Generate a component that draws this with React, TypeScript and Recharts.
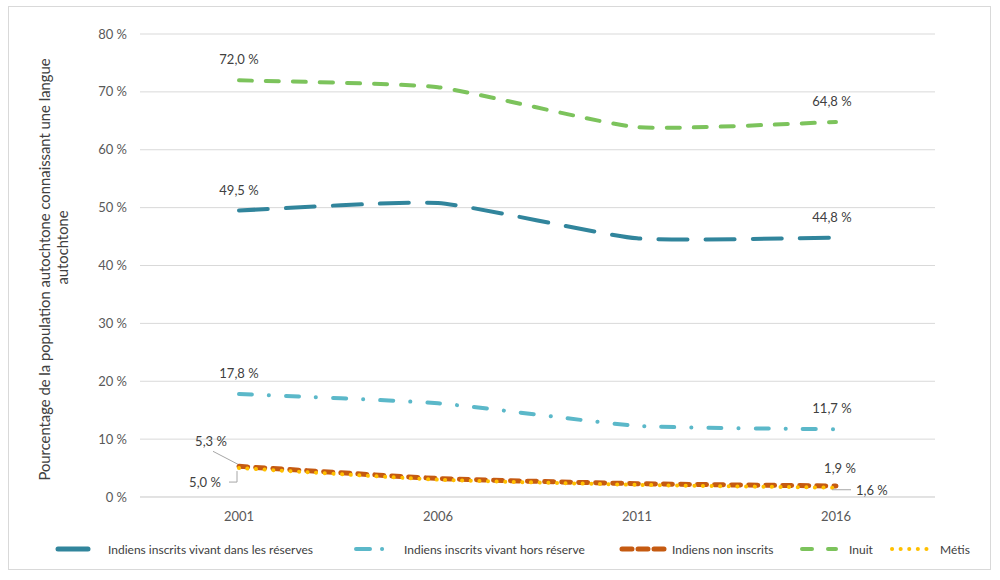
import { LineChart, Line, XAxis, YAxis, CartesianGrid, Legend, LabelList } from "recharts";

const categories = ["2001", "2006", "2011", "2016"];
const reserves = [49.5, 50.8, 44.7, 44.8];
const horsReserve = [17.8, 16.2, 12.3, 11.7];
const nonInscrits = [5.3, 3.2, 2.3, 1.9];
const inuit = [72.0, 70.8, 63.9, 64.8];
const metis = [5.0, 3.0, 2.1, 1.6];
const yTicks = [0, 10, 20, 30, 40, 50, 60, 70, 80];

const data = categories.map((annee, i) => ({
  annee,
  reserves: reserves[i],
  horsReserve: horsReserve[i],
  nonInscrits: nonInscrits[i],
  inuit: inuit[i],
  metis: metis[i],
}));

const FONT = "Lato, 'Open Sans', sans-serif";
const fmt = (v: number) => `${v.toFixed(1).replace(".", ",")} %`;

// lissage façon Excel (Catmull-Rom, tension réduite)
type Ctx = { moveTo: (x: number, y: number) => void; bezierCurveTo: (a: number, b: number, c: number, d: number, e: number, f: number) => void };
function excelSmooth(context: Ctx) {
  let pts: [number, number][] = [];
  return {
    areaStart() {},
    areaEnd() {},
    lineStart() {
      pts = [];
    },
    point(x: number, y: number) {
      pts.push([+x, +y]);
    },
    lineEnd() {
      if (!pts.length) return;
      context.moveTo(pts[0][0], pts[0][1]);
      for (let i = 0; i < pts.length - 1; i++) {
        const p0 = pts[i - 1] || pts[i];
        const p1 = pts[i];
        const p2 = pts[i + 1];
        const p3 = pts[i + 2] || p2;
        const k = 1 / 12;
        context.bezierCurveTo(
          p1[0] + (p2[0] - p0[0]) * k,
          p1[1] + (p2[1] - p0[1]) * k,
          p2[0] - (p3[0] - p1[0]) * k,
          p2[1] - (p3[1] - p1[1]) * k,
          p2[0],
          p2[1]
        );
      }
    },
  };
}

type LabelProps = { x?: number; y?: number; index?: number; value?: number };

// étiquettes seulement au premier et au dernier point
function aboveLabel(dyFirst: number, dyLast: number) {
  return (p: LabelProps) => {
    const { x = 0, y = 0, index, value = 0 } = p;
    if (index !== 0 && index !== categories.length - 1) return null;
    const dy = index === 0 ? dyFirst : dyLast;
    const dx = index === 0 ? 0 : -4;
    return (
      <text x={x + dx} y={y + dy} textAnchor="middle" dominantBaseline="central" fontSize={13} fill="#404040" fontFamily={FONT}>
        {fmt(value)}
      </text>
    );
  };
}

function nonInscritsLabel(p: LabelProps) {
  const { x = 0, y = 0, index, value = 0 } = p;
  if (index === 0) {
    return (
      <g>
        <line x1={x - 26} y1={y - 15} x2={x - 1} y2={y - 2} stroke="#a6a6a6" strokeWidth={1} />
        <text x={x - 28} y={y - 25} textAnchor="middle" dominantBaseline="central" fontSize={13} fill="#404040" fontFamily={FONT}>
          {fmt(value)}
        </text>
      </g>
    );
  }
  if (index === categories.length - 1) {
    return (
      <text x={x + 4} y={y - 18} textAnchor="middle" dominantBaseline="central" fontSize={13} fill="#404040" fontFamily={FONT}>
        {fmt(value)}
      </text>
    );
  }
  return null;
}

function metisLabel(p: LabelProps) {
  const { x = 0, y = 0, index, value = 0 } = p;
  if (index === 0) {
    return (
      <g>
        <polyline points={`${x - 10},${y + 14} ${x - 2},${y + 14} ${x - 2},${y + 3}`} fill="none" stroke="#a6a6a6" strokeWidth={1} />
        <text x={x - 34} y={y + 14} textAnchor="middle" dominantBaseline="central" fontSize={13} fill="#404040" fontFamily={FONT}>
          {fmt(value)}
        </text>
      </g>
    );
  }
  if (index === categories.length - 1) {
    return (
      <g>
        <line x1={x - 4} y1={y + 2} x2={x + 15} y2={y + 2} stroke="#a6a6a6" strokeWidth={1} />
        <text x={x + 20} y={y + 2} textAnchor="start" dominantBaseline="central" fontSize={13} fill="#404040" fontFamily={FONT}>
          {fmt(value)}
        </text>
      </g>
    );
  }
  return null;
}

const legendItems = [
  { label: "Indiens inscrits vivant dans les réserves", color: "#31859C", dash: "", width: 5, x1: 58, x2: 88, tx: 108 },
  { label: "Indiens inscrits vivant hors réserve", color: "#5BB8C9", dash: "14 12 0.1 20", width: 4, x1: 356, x2: 384, tx: 404 },
  { label: "Indiens non inscrits", color: "#C55A11", dash: "10 6", width: 5, x1: 622, x2: 665, tx: 672 },
  { label: "Inuit", color: "#7CC35C", dash: "10 16", width: 4, x1: 802, x2: 836, tx: 849 },
  { label: "Métis", color: "#FFC000", dash: "0.1 8.5", width: 4, x1: 892, x2: 934, tx: 940 },
];

function LegendContent() {
  return (
    <svg width={1000} height={24} style={{ display: "block" }}>
      {legendItems.map((it) => (
        <g key={it.label}>
          <line x1={it.x1} y1={12} x2={it.x2} y2={12} stroke={it.color} strokeWidth={it.width} strokeDasharray={it.dash || undefined} strokeLinecap="round" />
          <text x={it.tx} y={12} dominantBaseline="central" fontSize={12} fill="#404040" fontFamily={FONT}>
            {it.label}
          </text>
        </g>
      ))}
    </svg>
  );
}

function YLabel(props: { viewBox?: { x: number; y: number; width: number; height: number } }) {
  const vb = props.viewBox || { x: 0, y: 0, width: 0, height: 0 };
  const cy = vb.y + vb.height / 2 + 4;
  return (
    <text transform={`rotate(-90, 50, ${cy})`} x={50} y={cy} textAnchor="middle" fontSize={14.8} fill="#404040" fontFamily={FONT}>
      <tspan x={50} dy={0}>Pourcentage de la population autochtone connaissant une langue</tspan>
      <tspan x={72} dy={18}>autochtone</tspan>
    </text>
  );
}

export default function App() {
  return (
    <div style={{ position: "absolute", left: 0, top: 0, width: 1000, height: 580, background: "#fff" }}>
      <div style={{ position: "absolute", left: 8, top: 6, width: 983, height: 564, border: "1px solid #d9d9d9", boxSizing: "border-box" }} />
      <LineChart width={1000} height={580} data={data} margin={{ top: 34, right: 65, left: 0, bottom: 19 }}>
        <CartesianGrid vertical={false} stroke="#d9d9d9" strokeWidth={1} />
        <XAxis
          dataKey="annee"
          axisLine={{ stroke: "#d9d9d9" }}
          tickLine={false}
          tickSize={0}
          tickMargin={15}
          height={40}
          padding={{ left: 99, right: 99 }}
          tick={{ fontSize: 13, fill: "#595959", fontFamily: FONT }}
        />
        <YAxis
          width={140}
          domain={[0, 80]}
          ticks={yTicks}
          axisLine={false}
          tickLine={false}
          tickSize={0}
          tickMargin={13}
          tickFormatter={(v: number) => `${v} %`}
          tick={{ fontSize: 13, fill: "#595959", fontFamily: FONT }}
          label={<YLabel />}
        />
        <Legend verticalAlign="bottom" height={24} wrapperStyle={{ left: 0, width: 1000 }} content={<LegendContent />} />
        <Line type={excelSmooth as never} dataKey="inuit" stroke="#7CC35C" strokeWidth={4} strokeDasharray="13 14" strokeLinecap="round" dot={false} isAnimationActive={false}>
          <LabelList dataKey="inuit" content={aboveLabel(-21, -21)} />
        </Line>
        <Line type={excelSmooth as never} dataKey="reserves" stroke="#31859C" strokeWidth={4} strokeDasharray="29 18" strokeLinecap="round" dot={false} isAnimationActive={false}>
          <LabelList dataKey="reserves" content={aboveLabel(-21, -21)} />
        </Line>
        <Line type={excelSmooth as never} dataKey="horsReserve" stroke="#5BB8C9" strokeWidth={4} strokeDasharray="13 17 0.1 17" strokeLinecap="round" dot={false} isAnimationActive={false}>
          <LabelList dataKey="horsReserve" content={aboveLabel(-21, -21)} />
        </Line>
        <Line type={excelSmooth as never} dataKey="nonInscrits" stroke="#C55A11" strokeWidth={5} strokeDasharray="9 8" strokeLinecap="round" dot={false} isAnimationActive={false}>
          <LabelList dataKey="nonInscrits" content={nonInscritsLabel} />
        </Line>
        <Line type={excelSmooth as never} dataKey="metis" stroke="#FFC000" strokeWidth={4} strokeDasharray="0.1 8.5" strokeLinecap="round" dot={false} isAnimationActive={false}>
          <LabelList dataKey="metis" content={metisLabel} />
        </Line>
      </LineChart>
    </div>
  );
}
